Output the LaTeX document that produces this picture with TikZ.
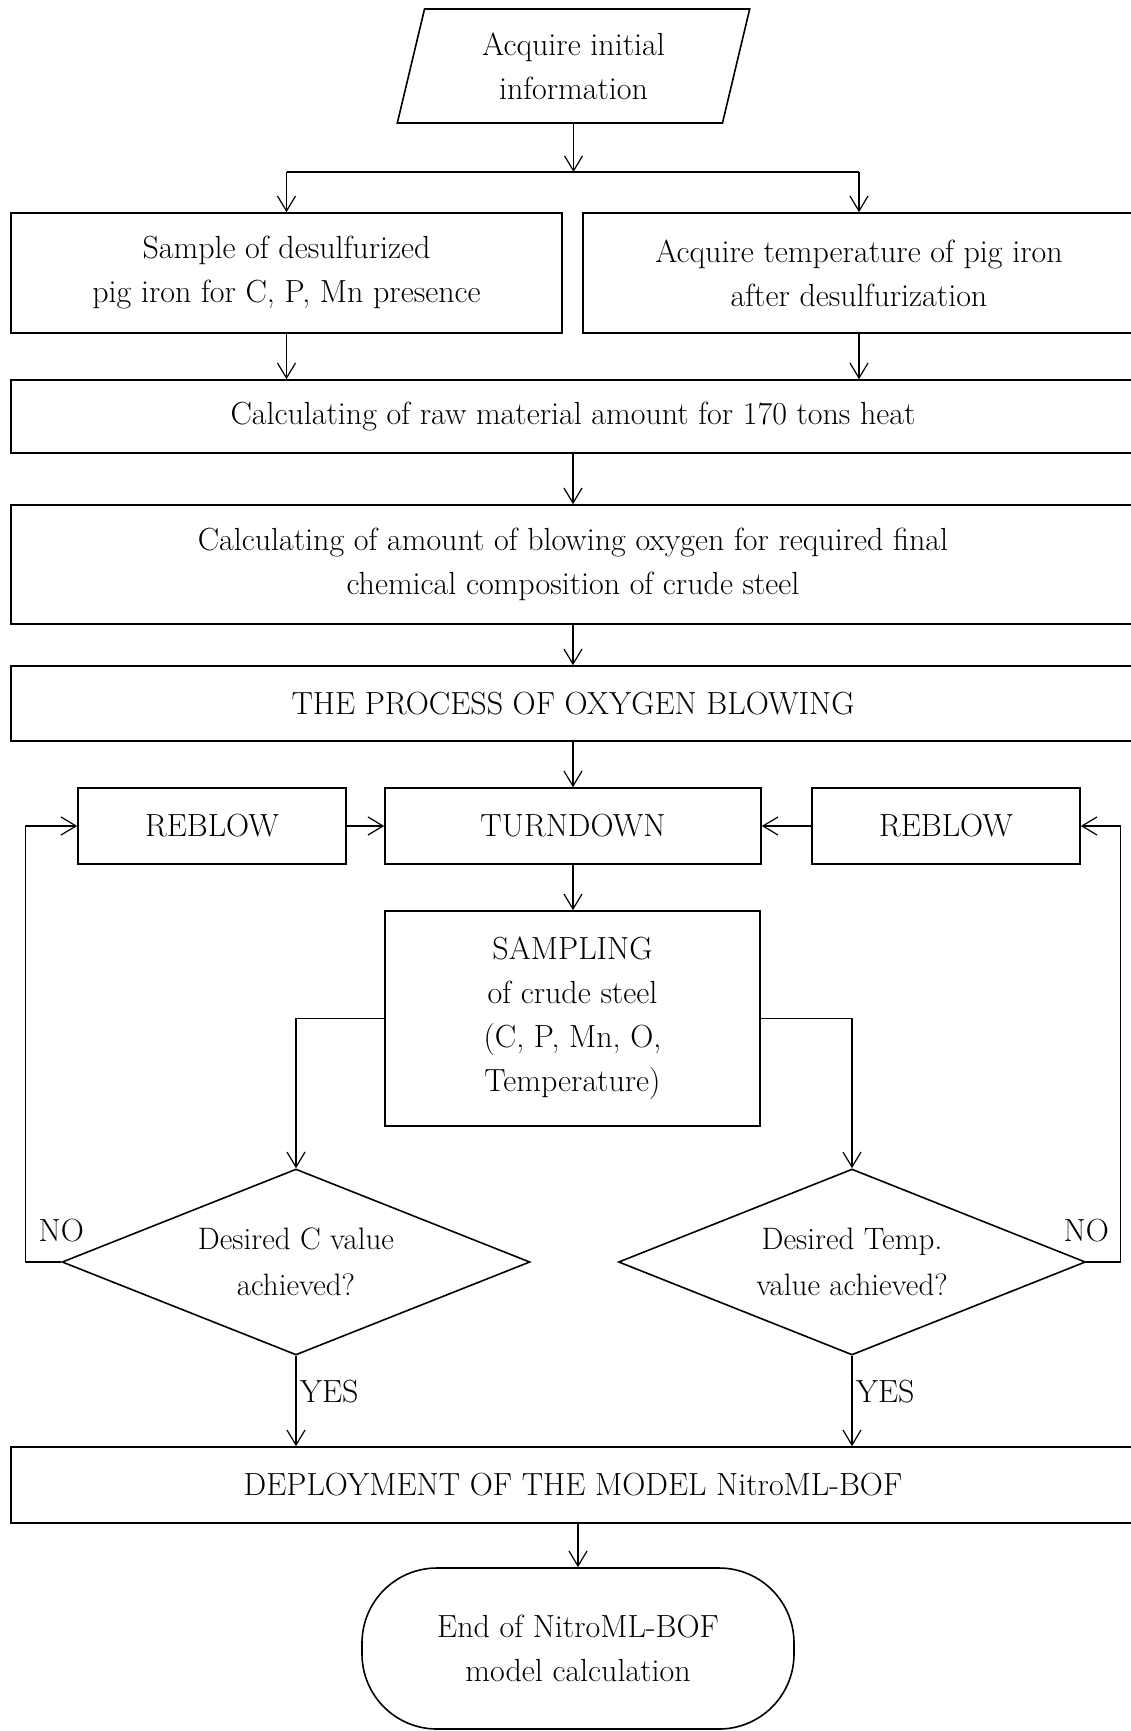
\documentclass[tikz,border=0pt]{standalone}
\usepackage{tikz}
\usetikzlibrary{arrows.meta,positioning,shapes.geometric}
\tikzset{font=\fontsize{32}{44}\selectfont}
\tikzset{
  blk/.style={draw,line width=1.6pt,rectangle,align=center,inner sep=0pt},
  dec/.style={draw,line width=1.6pt,diamond,aspect=2.5,align=center,inner sep=0pt,font=\fontsize{31}{46}\selectfont},
  arr/.style={line width=1.2pt,-{Straight Barb[length=15pt,width=18pt]}},
  lin/.style={line width=1.2pt}
}

\begin{document}
\begin{tikzpicture}[x=1pt,y=-1pt]
  \useasboundingbox (0,0) rectangle (1131,1731);

  \node[blk,trapezium,trapezium left angle=76,trapezium right angle=104,
        trapezium stretches=true,minimum width=353,minimum height=114] (init) at (573.5,66) {Acquire initial\\information};

  \node[blk,minimum width=551,minimum height=120] (sample) at (286.5,273) {Sample of desulfurized\\pig iron for C, P, Mn presence};
  \node[blk,minimum width=552,minimum height=120] (temp) at (859,273) {Acquire temperature of pig iron\\after desulfurization};
  \node[blk,minimum width=1124,minimum height=73] (raw) at (573,416.5) {Calculating of raw material amount for 170 tons heat};
  \node[blk,minimum width=1124,minimum height=119] (oxy) at (573,564.5) {Calculating of amount of blowing oxygen for required final\\chemical composition of crude steel};
  \node[blk,minimum width=1124,minimum height=75] (blow) at (573,703.5) {THE PROCESS OF OXYGEN BLOWING};

  \node[blk,minimum width=268,minimum height=76] (rbl) at (212,826) {REBLOW};
  \node[blk,minimum width=376,minimum height=76] (turn) at (573,826) {TURNDOWN};
  \node[blk,minimum width=268,minimum height=76] (rbr) at (946,826) {REBLOW};
  \node[blk,minimum width=375,minimum height=215] (samp) at (572.5,1018.5) {SAMPLING\\of crude steel\\(C, P, Mn, O,\\Temperature)};

  \node[dec,minimum width=468,minimum height=186] (cval) at (296,1262) {Desired C value\\achieved?};
  \node[dec,minimum width=467,minimum height=186] (tval) at (852,1262) {Desired Temp.\\value achieved?};

  \node[blk,minimum width=1124,minimum height=76] (deploy) at (573,1485) {DEPLOYMENT OF THE MODEL NitroML-BOF};
  \node[blk,rounded corners=75,minimum width=432,minimum height=161] (fin) at (578,1648.5) {End of NitroML-BOF\\model calculation};

  \coordinate (fork) at (574,172);
  \draw[arr] (init.south) -- (init.south |- fork);
  \draw[lin] (fork -| sample.north) -- (fork -| temp.north);
  \draw[arr] (sample.north |- fork) -- (sample.north);
  \draw[arr] (temp.north |- fork) -- (temp.north);
  \draw[arr] (sample.south) -- (sample.south |- raw.north);
  \draw[arr] (temp.south) -- (temp.south |- raw.north);
  \draw[arr] (raw) -- (oxy);
  \draw[arr] (oxy) -- (blow);
  \draw[arr] (blow) -- (turn);
  \draw[arr] (rbl) -- (turn);
  \draw[arr] (rbr) -- (turn);
  \draw[arr] (turn.south) -- (turn.south |- samp.north);

  \draw[arr] (samp.west) -| (cval.north);
  \draw[arr] (samp.east) -| (tval.north);
  \draw[arr] (cval.south) -- node[right,pos=0.4] {YES} (cval.south |- deploy.north);
  \draw[arr] (tval.south) -- node[right,pos=0.4] {YES} (tval.south |- deploy.north);
  \draw[arr] (cval.west) node[above=16pt] {NO} -- ++(-36,0) |- (rbl.west);
  \draw[arr] (tval.east) node[above=16pt] {NO} -- ++(34,0) |- (rbr.east);
%  \draw[arr] (deploy) -- (fin);
  \draw[arr] (fin.north |- deploy.south) -- (fin.north);
\end{tikzpicture}
\end{document}
